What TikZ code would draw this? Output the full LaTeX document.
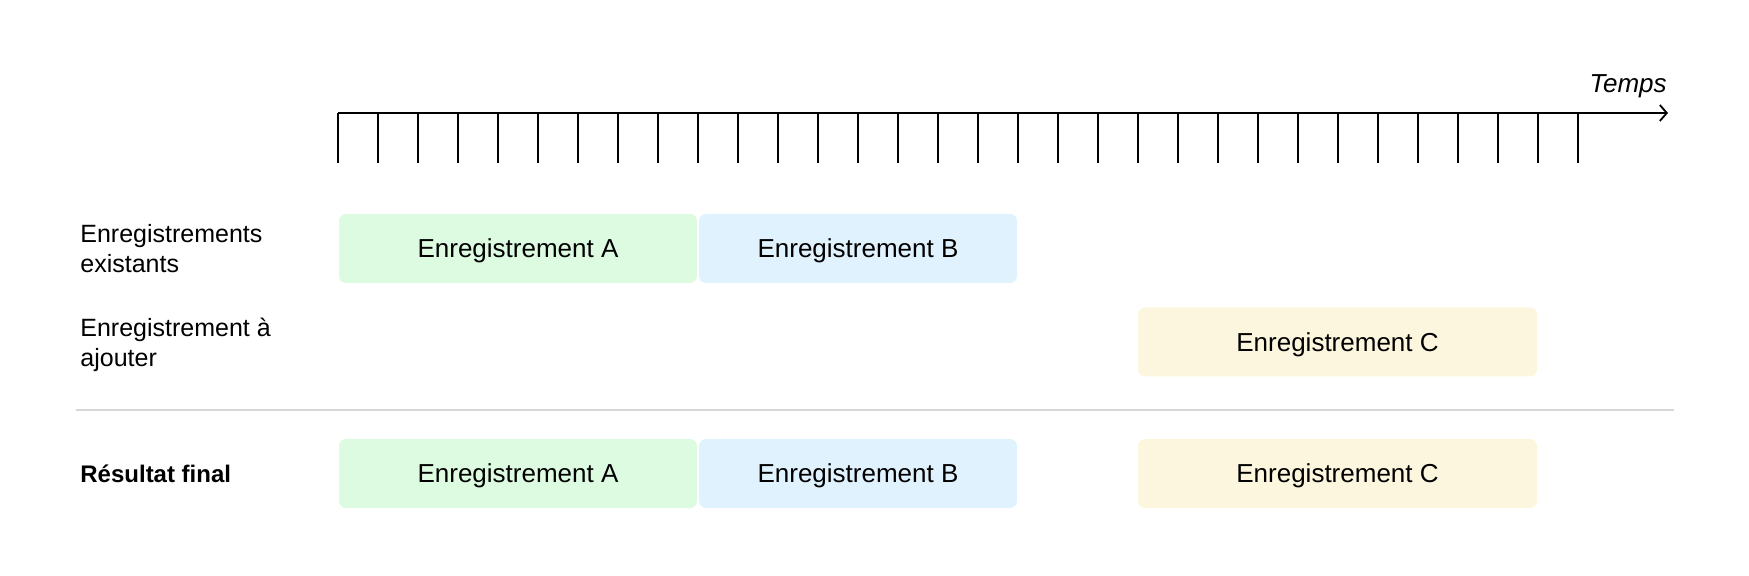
\documentclass[tikz,border=0pt]{standalone}
\usepackage{fontspec}
\setmainfont{Liberation Sans}
\usetikzlibrary{arrows.meta}
\definecolor{recgreen}{HTML}{DDFBE0}
\definecolor{recblue}{HTML}{E0F2FE}
\definecolor{recyellow}{HTML}{FDF6DE}
\definecolor{sepgray}{HTML}{D6D6D6}
\tikzset{
  rec/.style={rounded corners=3.5pt, minimum height=34.5pt, inner sep=0pt, text height=9.3pt, text depth=0pt, font=\fontsize{13pt}{15pt}\selectfont},
  recA/.style={rec, fill=recgreen, minimum width=179pt},
  recB/.style={rec, fill=recblue, minimum width=159pt},
  recC/.style={rec, fill=recyellow, minimum width=199.5pt},
  rowlabel/.style={anchor=west, align=left, inner sep=0pt, font=\fontsize{12.5pt}{15pt}\selectfont}
}
\begin{document}
\begin{tikzpicture}[x=0.5pt,y=-0.5pt]
  \useasboundingbox (0,0) rectangle (1749,576);
  \coordinate (t0) at (338,113);
  \coordinate (tend) at (1668,113);
  \draw[line width=0.9pt, -{Straight Barb[length=3.5pt,width=8pt]}] (t0) -- (tend);
  \foreach \i in {0,...,31}
    \draw[line width=0.6pt] (338+40*\i,113) -- ++(0,50);
  \node[anchor=base east, inner sep=0pt, font=\fontsize{13pt}{15pt}\selectfont\itshape] (temps) at (1667,93) {Temps};
  \node[rowlabel] (existants) at (80,249) {Enregistrements\\existants};
  \node[rowlabel] (ajouter) at (80,345) {Enregistrement à\\ajouter};
  \node[rowlabel, font=\fontsize{12pt}{15pt}\selectfont\bfseries] (resultat) at (80,474) {Résultat final};
  \node[recA] (recA1) at (518,248.5) {Enregistrement A};
  \node[recB] (recB1) at (858,248.5) {Enregistrement B};
  \node[recC] (recC2) at (1337.5,342) {Enregistrement C};
  \coordinate (sepL) at (76,410);
  \coordinate (sepR) at (1674,410);
  \draw[sepgray, line width=0.7pt] (sepL) -- (sepR);
  \node[recA] (recA3) at (518,473.5) {Enregistrement A};
  \node[recB] (recB3) at (858,473.5) {Enregistrement B};
  \node[recC] (recC3) at (1337.5,473.5) {Enregistrement C};
\end{tikzpicture}
\end{document}
